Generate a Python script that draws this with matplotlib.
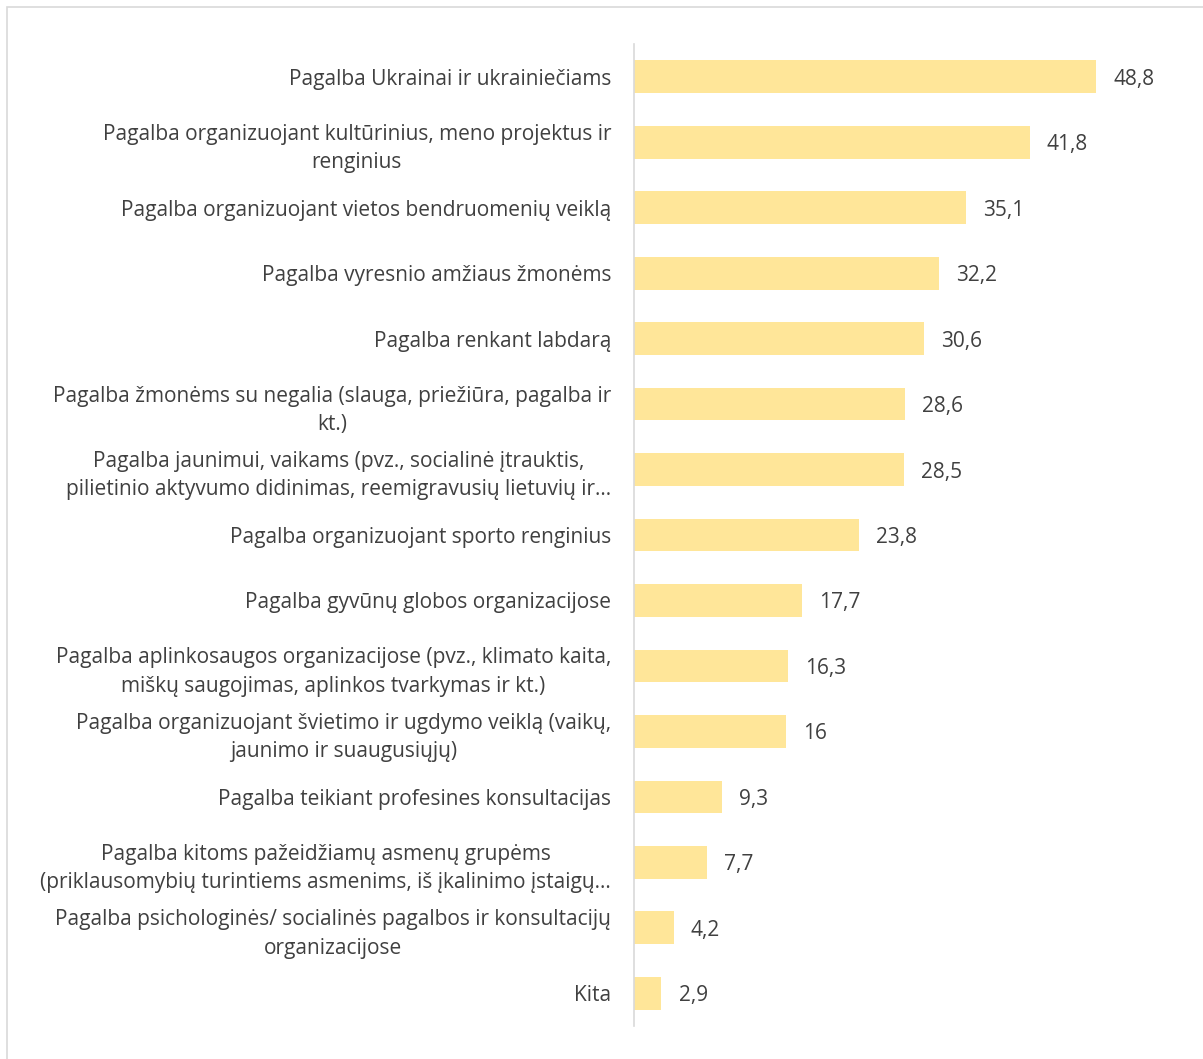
import matplotlib.pyplot as plt
from matplotlib.patches import Rectangle

categories = [
    "Pagalba Ukrainai ir ukrainiečiams",
    "Pagalba organizuojant kultūrinius, meno projektus ir\nrenginius",
    "Pagalba organizuojant vietos bendruomenių veiklą",
    "Pagalba vyresnio amžiaus žmonėms",
    "Pagalba renkant labdarą",
    "Pagalba žmonėms su negalia (slauga, priežiūra, pagalba ir\nkt.)",
    "Pagalba jaunimui, vaikams (pvz., socialinė įtrauktis,\npilietinio aktyvumo didinimas, reemigravusių lietuvių ir…",
    "Pagalba organizuojant sporto renginius",
    "Pagalba gyvūnų globos organizacijose",
    "Pagalba aplinkosaugos organizacijose (pvz., klimato kaita,\nmiškų saugojimas, aplinkos tvarkymas ir kt.)",
    "Pagalba organizuojant švietimo ir ugdymo veiklą (vaikų,\njaunimo ir suaugusiųjų)",
    "Pagalba teikiant profesines konsultacijas",
    "Pagalba kitoms pažeidžiamų asmenų grupėms\n(priklausomybių turintiems asmenims, iš įkalinimo įstaigų…",
    "Pagalba psichologinės/ socialinės pagalbos ir konsultacijų\norganizacijose",
    "Kita",
]
values = [48.8, 41.8, 35.1, 32.2, 30.6, 28.6, 28.5, 23.8, 17.7, 16.3, 16, 9.3, 7.7, 4.2, 2.9]

plt.rcParams['font.family'] = ['Open Sans', 'DejaVu Sans']
txt = "#404040"

fig = plt.figure(figsize=(12.03, 10.59), dpi=100)
fig.patches.append(Rectangle((7 / 1203, -0.01), 1.1, 1 - 7 / 1059 + 0.01,
                             transform=fig.transFigure, fill=False,
                             edgecolor="#D9D9D9", linewidth=1.2))
ax = fig.add_axes([634 / 1203, 1 - 1026 / 1059, (1190 - 634) / 1203, (1026 - 44) / 1059])

y = list(range(len(categories)))
ax.barh(y, values, height=0.5, color="#FFE699")
for yi, v in zip(y, values):
    ax.text(v + 1.8, yi, f"{v:g}".replace(".", ","), va="center_baseline", ha="left",
            fontsize=15, color=txt)

ax.set_ylim(len(categories) - 0.5, -0.5)
ax.set_xlim(0, 58.7)
ax.set_yticks(y)
ax.set_yticklabels(categories, fontsize=15, color=txt, ha="right",
                   multialignment="center", linespacing=1.45)
ax.tick_params(axis="y", length=0, pad=16.5)
ax.set_xticks([])
for s in ["top", "right", "bottom"]:
    ax.spines[s].set_visible(False)
ax.spines["left"].set_color("#D9D9D9")
ax.spines["left"].set_linewidth(1.2)

fig.savefig("out.png", dpi=100)
plt.close(fig)
